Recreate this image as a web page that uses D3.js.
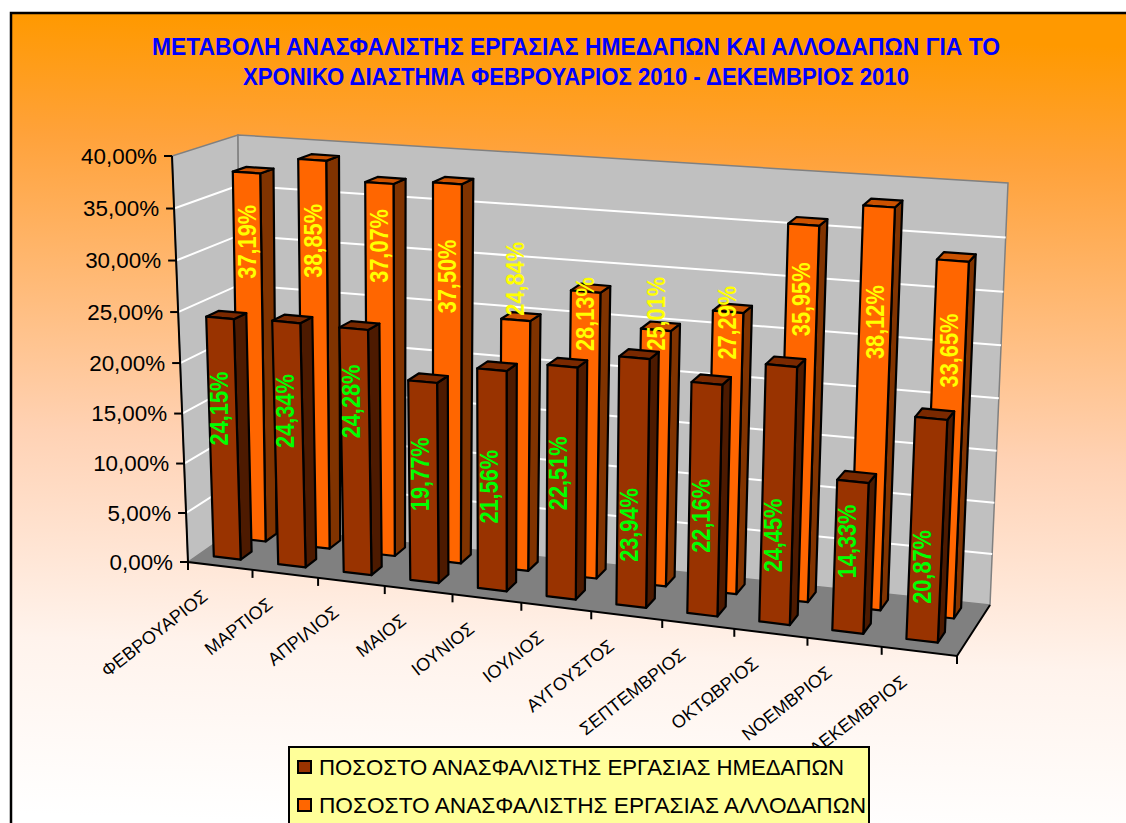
<!DOCTYPE html>
<html><head><meta charset="utf-8">
<script src="https://cdn.jsdelivr.net/npm/d3@7/dist/d3.min.js"></script>
<style>html,body{margin:0;padding:0;background:#fff;overflow:hidden}svg{display:block}text{font-family:"Liberation Sans",Arial,sans-serif}</style>
</head><body><svg id="c" width="1126" height="823"></svg>
<script>
const titleLines = ["ΜΕΤΑΒΟΛΗ ΑΝΑΣΦΑΛΙΣΤΗΣ ΕΡΓΑΣΙΑΣ ΗΜΕΔΑΠΩΝ ΚΑΙ ΑΛΛΟΔΑΠΩΝ ΓΙΑ ΤΟ","ΧΡΟΝΙΚΟ ΔΙΑΣΤΗΜΑ ΦΕΒΡΟΥΑΡΙΟΣ 2010 - ΔΕΚΕΜΒΡΙΟΣ 2010"];
const months = ["ΦΕΒΡΟΥΑΡΙΟΣ","ΜΑΡΤΙΟΣ","ΑΠΡΙΛΙΟΣ","ΜΑΙΟΣ","ΙΟΥΝΙΟΣ","ΙΟΥΛΙΟΣ","ΑΥΓΟΥΣΤΟΣ","ΣΕΠΤΕΜΒΡΙΟΣ","ΟΚΤΩΒΡΙΟΣ","ΝΟΕΜΒΡΙΟΣ","ΔΕΚΕΜΒΡΙΟΣ"];
const seriesNames = ["ΠΟΣΟΣΤΟ ΑΝΑΣΦΑΛΙΣΤΗΣ ΕΡΓΑΣΙΑΣ ΗΜΕΔΑΠΩΝ","ΠΟΣΟΣΤΟ ΑΝΑΣΦΑΛΙΣΤΗΣ ΕΡΓΑΣΙΑΣ ΑΛΛΟΔΑΠΩΝ"];
const domestic = [24.15,24.34,24.28,19.77,21.56,22.51,23.94,22.16,24.45,14.33,20.87];
const foreign  = [37.19,38.85,37.07,37.50,24.84,28.13,25.01,27.29,35.95,38.12,33.65];
// heights (in axis units, uneased) at which the original chart centred its data labels
const domesticLabelLevel = [14.8,15.2,16.8,10.4,9.9,11.9,7.7,9.3,8.2,8.4,6.8];
const foreignLabelLevel  = [30.1,30.7,30.7,28.2,28.5,25.6,26.2,25.9,28.7,27.1,25.0];

const svg = d3.select("#c");
const defs = svg.append("defs");
const g = defs.append("linearGradient").attr("id","bg").attr("gradientUnits","userSpaceOnUse")
  .attr("x1",0).attr("y1",12).attr("x2",-25).attr("y2",812);
[[0,"#FF9900"],[.15,"#FFA23A"],[.52,"#FFD2B4"],[.78,"#FFF3EC"],[1,"#FFFFFF"]].forEach(([o,c])=>g.append("stop").attr("offset",o).attr("stop-color",c));
svg.append("rect").attr("x",11).attr("y",13).attr("width",1200).attr("height",900).attr("fill","url(#bg)").attr("stroke","#000").attr("stroke-width",2.5);

// Frame of the 3-D box: bilinear between its corners, with perspective easing along the category and value axes
const floorC = {fl:[188,562],fr:[957,656],br:[990,605],bl:[241,525]};
const ceilC  = {fl:[172,156],fr:[977,216],br:[1008,183],bl:[238,135]};
const warp = u=>.915*u+.085*u*u;
const bilin = (c,u,d)=>{const w=warp(u);return [0,1].map(k=>(1-d)*((1-w)*c.fl[k]+w*c.fr[k])+d*((1-w)*c.bl[k]+w*c.br[k]));};
const level = d3.scaleLinear().domain([0,40]).range([0,1]);
const at = (u,d,t)=>{const a=bilin(floorC,u,d),b=bilin(ceilC,u,d);return [a[0]+(b[0]-a[0])*t,a[1]+(b[1]-a[1])*t];};
const pt = (u,d,v)=>{const t=level(v);return at(u,d,t-.04*t*(1-t));};
const xBand = d3.scaleBand().domain(months).range([0,1]).paddingInner(.58).paddingOuter(.29).align(.41);
const zBand = d3.scaleBand().domain(seriesNames).range([.2,.89]).paddingInner(.56).paddingOuter(0);
const path = ps=>"M"+ps.map(p=>p[0].toFixed(1)+","+p[1].toFixed(1)).join("L")+"Z";
const line = d3.line();

const grey="#C0C0C0";
const yTicks = level.ticks(8);
const axisFmt = d3.formatLocale({decimal:",",thousands:".",grouping:[3],currency:["","%"]}).format(".2f");
const lblFmt = v=>axisFmt(v)+"%";

// walls and floor
svg.append("path").attr("d",path([pt(0,0,0),pt(0,1,0),pt(0,1,40),pt(0,0,40)])).attr("fill",grey).attr("stroke","#808080").attr("stroke-width",1.5);
svg.append("path").attr("d",path([pt(0,1,0),pt(1,1,0),pt(1,1,40),pt(0,1,40)])).attr("fill",grey).attr("stroke","#808080").attr("stroke-width",1.5);
svg.append("path").attr("d",path([pt(0,0,0),pt(1,0,0),pt(1,1,0),pt(0,1,0)])).attr("fill","#808080");
// gridlines
yTicks.filter(v=>v>0&&v<40).forEach(v=>{
  svg.append("path").attr("d",line([pt(0,0,v),pt(0,1,v),pt(1,1,v)])).attr("fill","none").attr("stroke","#fff").attr("stroke-width",2);
});
// axes
const black = sel=>sel.attr("stroke","#000").attr("stroke-width",2).attr("fill","none");
black(svg.append("path").attr("d",line([pt(0,0,40),pt(0,0,0),pt(1,0,0),pt(1,1,0)])));
yTicks.forEach(v=>{
  const p=pt(0,0,v);
  black(svg.append("path").attr("d",line([[p[0]-8,p[1]],p])));
  svg.append("text").attr("x",p[0]-15).attr("y",p[1]).attr("dy","0.35em").attr("text-anchor","end")
    .attr("font-size",22.4).attr("fill","#000").text(lblFmt(v));
});
const tickEdges=[...months.keys(),months.length].map(i=>i/months.length);
tickEdges.forEach(u=>{const p=pt(u,0,0);black(svg.append("path").attr("d",line([p,[p[0],p[1]+8]])));});
months.forEach((m,i)=>{
  const p=pt((i+.5)/months.length,0,0);
  svg.append("text").attr("text-anchor","end").attr("dominant-baseline","central")
    .attr("transform",`translate(${p[0]-15},${p[1]+28}) rotate(-38)`)
    .attr("font-size",18).attr("fill","#000").text(m);
});

// bars: rear row first, then front row, left to right in each
const rows=[
 {name:seriesNames[1],vals:foreign, lv:foreignLabelLevel, front:"#FF6600",side:"#803300",top:"#CC5200",lab:"#FFFF00",dx:0},
 {name:seriesNames[0],vals:domestic,lv:domesticLabelLevel,front:"#993300",side:"#4D1A00",top:"#7A2900",lab:"#00FF00",dx:-3}
];
rows.forEach(r=>{
  const d0=zBand(r.name),d1=d0+zBand.bandwidth();
  months.forEach((m,i)=>{
    const u0=xBand(m),u1=u0+xBand.bandwidth(),v=r.vals[i];
    const gb=svg.append("g").attr("stroke","#000").attr("stroke-width",2.2).attr("stroke-linejoin","round");
    gb.append("path").attr("d",path([pt(u1,d0,0),pt(u1,d1,0),pt(u1,d1,v),pt(u1,d0,v)])).attr("fill",r.side);
    gb.append("path").attr("d",path([pt(u0,d0,v),pt(u1,d0,v),pt(u1,d1,v),pt(u0,d1,v)])).attr("fill",r.top);
    gb.append("path").attr("d",path([pt(u0,d0,0),pt(u1,d0,0),pt(u1,d0,v),pt(u0,d0,v)])).attr("fill",r.front);
  });
});
// data labels on top of every bar
rows.forEach(r=>{
  const d0=zBand(r.name);
  months.forEach((m,i)=>{
    const uc=xBand(m)+xBand.bandwidth()/2,p=at(uc,d0,level(r.lv[i]));
    svg.append("text").attr("text-anchor","middle").attr("dominant-baseline","central")
      .attr("transform",`translate(${p[0]+r.dx},${p[1]}) rotate(-90) scale(.87,1)`)
      .attr("font-size",25).attr("fill",r.lab).attr("font-weight","bold").text(lblFmt(r.vals[i]));
  });
});

// title
titleLines.forEach((t,i)=>{
  svg.append("text").attr("x",576).attr("y",[55,85][i]).attr("text-anchor","middle")
    .attr("font-size",23).attr("font-weight","bold").attr("fill","#0000FF")
    .attr("textLength",[848,666][i]).attr("lengthAdjust","spacingAndGlyphs").text(t);
});
// legend
svg.append("rect").attr("x",289).attr("y",747).attr("width",580).attr("height",100).attr("fill","#FFFF99").attr("stroke","#000").attr("stroke-width",2);
seriesNames.forEach((n,i)=>{
  const y=[767,805][i];
  svg.append("rect").attr("x",298).attr("y",y-6).attr("width",13).attr("height",12).attr("fill",rows[1-i].front).attr("stroke","#000").attr("stroke-width",2);
  svg.append("text").attr("x",319).attr("y",y).attr("dy","0.35em").attr("font-size",21.5).attr("fill","#000")
    .attr("textLength",[525,547][i]).attr("lengthAdjust","spacingAndGlyphs").text(n);
});
</script></body></html>
